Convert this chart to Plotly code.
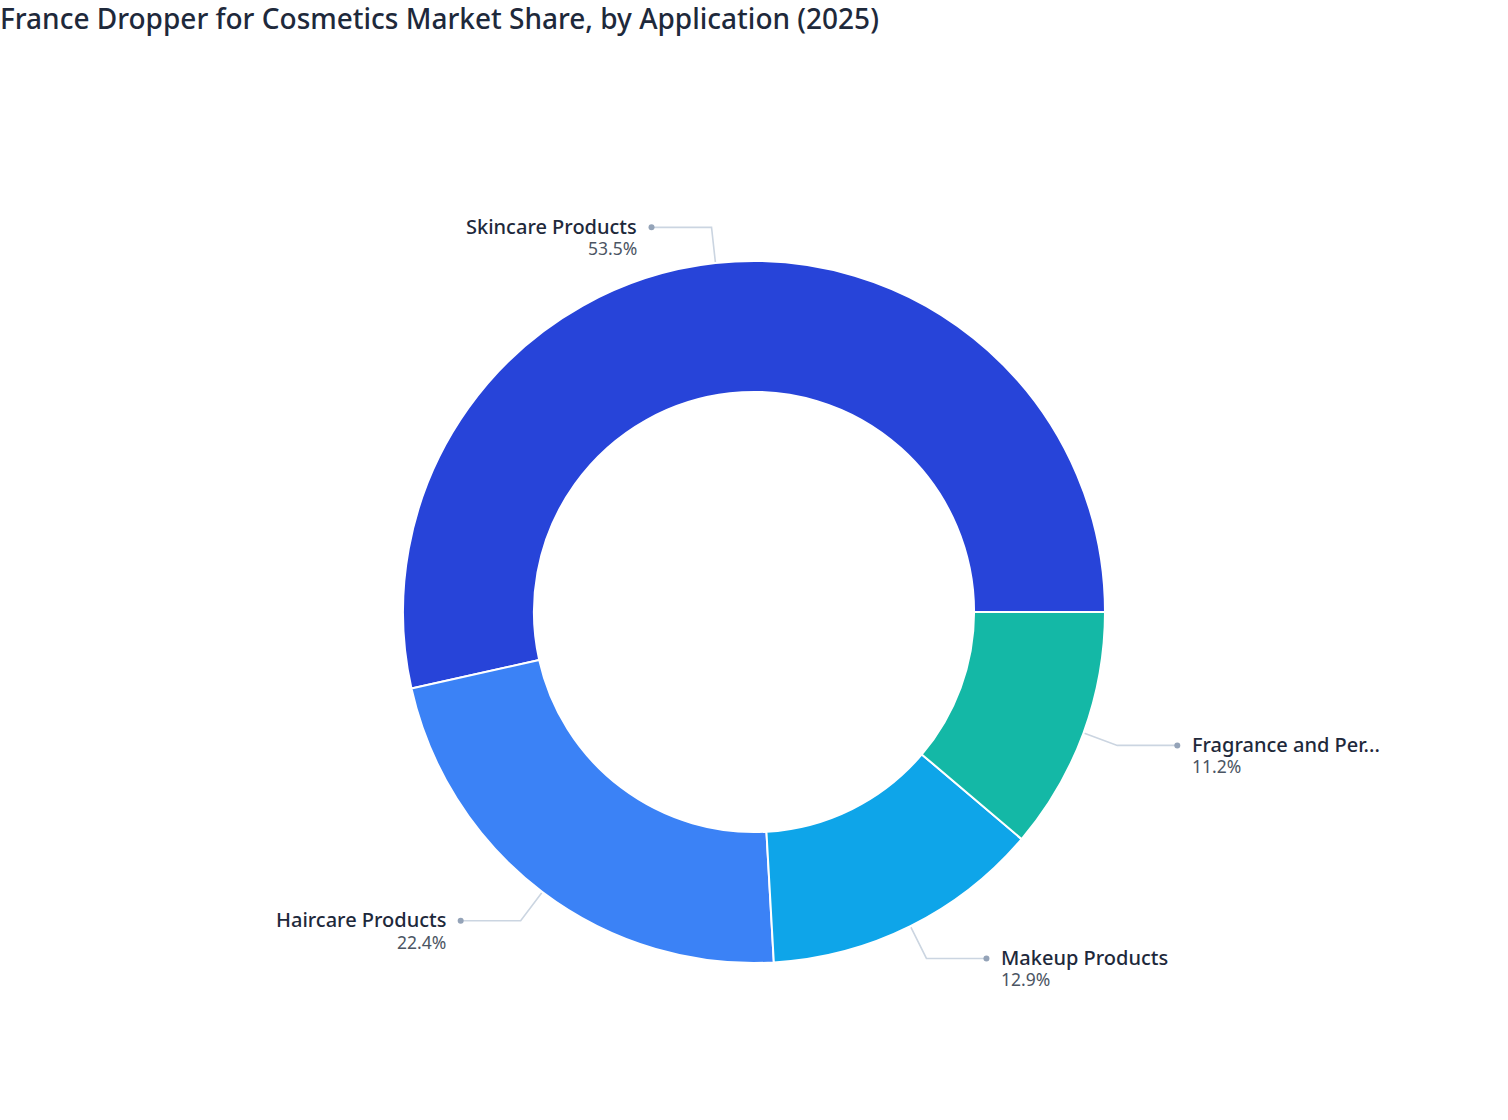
import numpy as np
import plotly.graph_objects as go

# data
categories = ["Skincare Products", "Haircare Products", "Makeup Products", "Fragrance and Perfumes"]
shares = [53.5, 22.4, 12.9, 11.2]
colors = ["#2744D9", "#3B82F6", "#0EA5E9", "#14B8A6"]
title_text = "France Dropper for Cosmetics Market Share, by Application (2025)"

W, H = 1508, 1120
CX, CY, R = 754, 612, 351   # donut centre / outer radius in px
HOLE = 0.627
MAX_CHARS = 17


def short(s):
    return s if len(s) <= MAX_CHARS else s[:MAX_CHARS] + "..."


# first slice should start at 3 o'clock and run counterclockwise
first_deg = 360 * shares[0] / sum(shares)

fig = go.Figure()

fig.add_trace(go.Pie(
    labels=categories,
    values=shares,
    hole=HOLE,
    sort=False,
    direction="counterclockwise",
    rotation=90 - first_deg,
    marker=dict(colors=colors, line=dict(color="white", width=2)),
    textinfo="none",
    hoverinfo="label+percent",
    showlegend=False,
    domain=dict(x=[0, 1], y=[(H - CY - R) / H, (H - CY + R) / H]),
))

# leader lines, computed from the slice mid angles
vals = np.array(shares)
ends = np.cumsum(vals) / vals.sum() * 2 * np.pi
mids = ends - vals / vals.sum() * np.pi

lx, ly, dx, dy = [], [], [], []
for i, a in enumerate(mids):
    x0, y0 = CX + (R + 1) * np.cos(a), CY - (R + 1) * np.sin(a)
    x1, y1 = CX + (R + 36) * np.cos(a), CY - (R + 36) * np.sin(a)
    side = 1 if np.cos(a) >= 0 else -1
    x2 = x1 + side * 60
    lx += [x0, x1, x2, None]
    ly += [y0, y1, y1, None]
    dx.append(x2)
    dy.append(y1)

    fig.add_annotation(
        x=x2 + side * 13, y=y1 - 1, xref="x", yref="y",
        text=short(categories[i]), showarrow=False,
        xanchor="left" if side > 0 else "right", yanchor="middle",
        font=dict(family="Noto Sans", size=20, color="#1e293b", weight=500),
    )
    fig.add_annotation(
        x=x2 + side * 13, y=y1 + 21, xref="x", yref="y",
        text=f"{shares[i]:.1f}%", showarrow=False,
        xanchor="left" if side > 0 else "right", yanchor="middle",
        font=dict(family="Noto Sans", size=17.5, color="#4b5563"),
    )

fig.add_trace(go.Scatter(
    x=lx, y=ly, mode="lines", line=dict(color="#cbd5e1", width=1.6),
    hoverinfo="skip", showlegend=False,
))
fig.add_trace(go.Scatter(
    x=dx, y=dy, mode="markers", marker=dict(color="#94a3b8", size=6),
    hoverinfo="skip", showlegend=False,
))

fig.update_layout(
    width=W, height=H,
    margin=dict(l=0, r=0, t=0, b=0),
    paper_bgcolor="white", plot_bgcolor="rgba(0,0,0,0)",
    title=dict(text=title_text, x=0, xref="paper", xanchor="left",
               y=1 - 19 / H, yref="container", yanchor="middle",
               font=dict(family="Noto Sans", size=28, color="#1e293b", weight=500)),
    xaxis=dict(range=[0, W], visible=False, fixedrange=True),
    yaxis=dict(range=[H, 0], visible=False, fixedrange=True),
    font=dict(family="Noto Sans"),
)

fig.write_html("out.html", config={"displayModeBar": False},
               post_script="document.body.style.margin='0';")
